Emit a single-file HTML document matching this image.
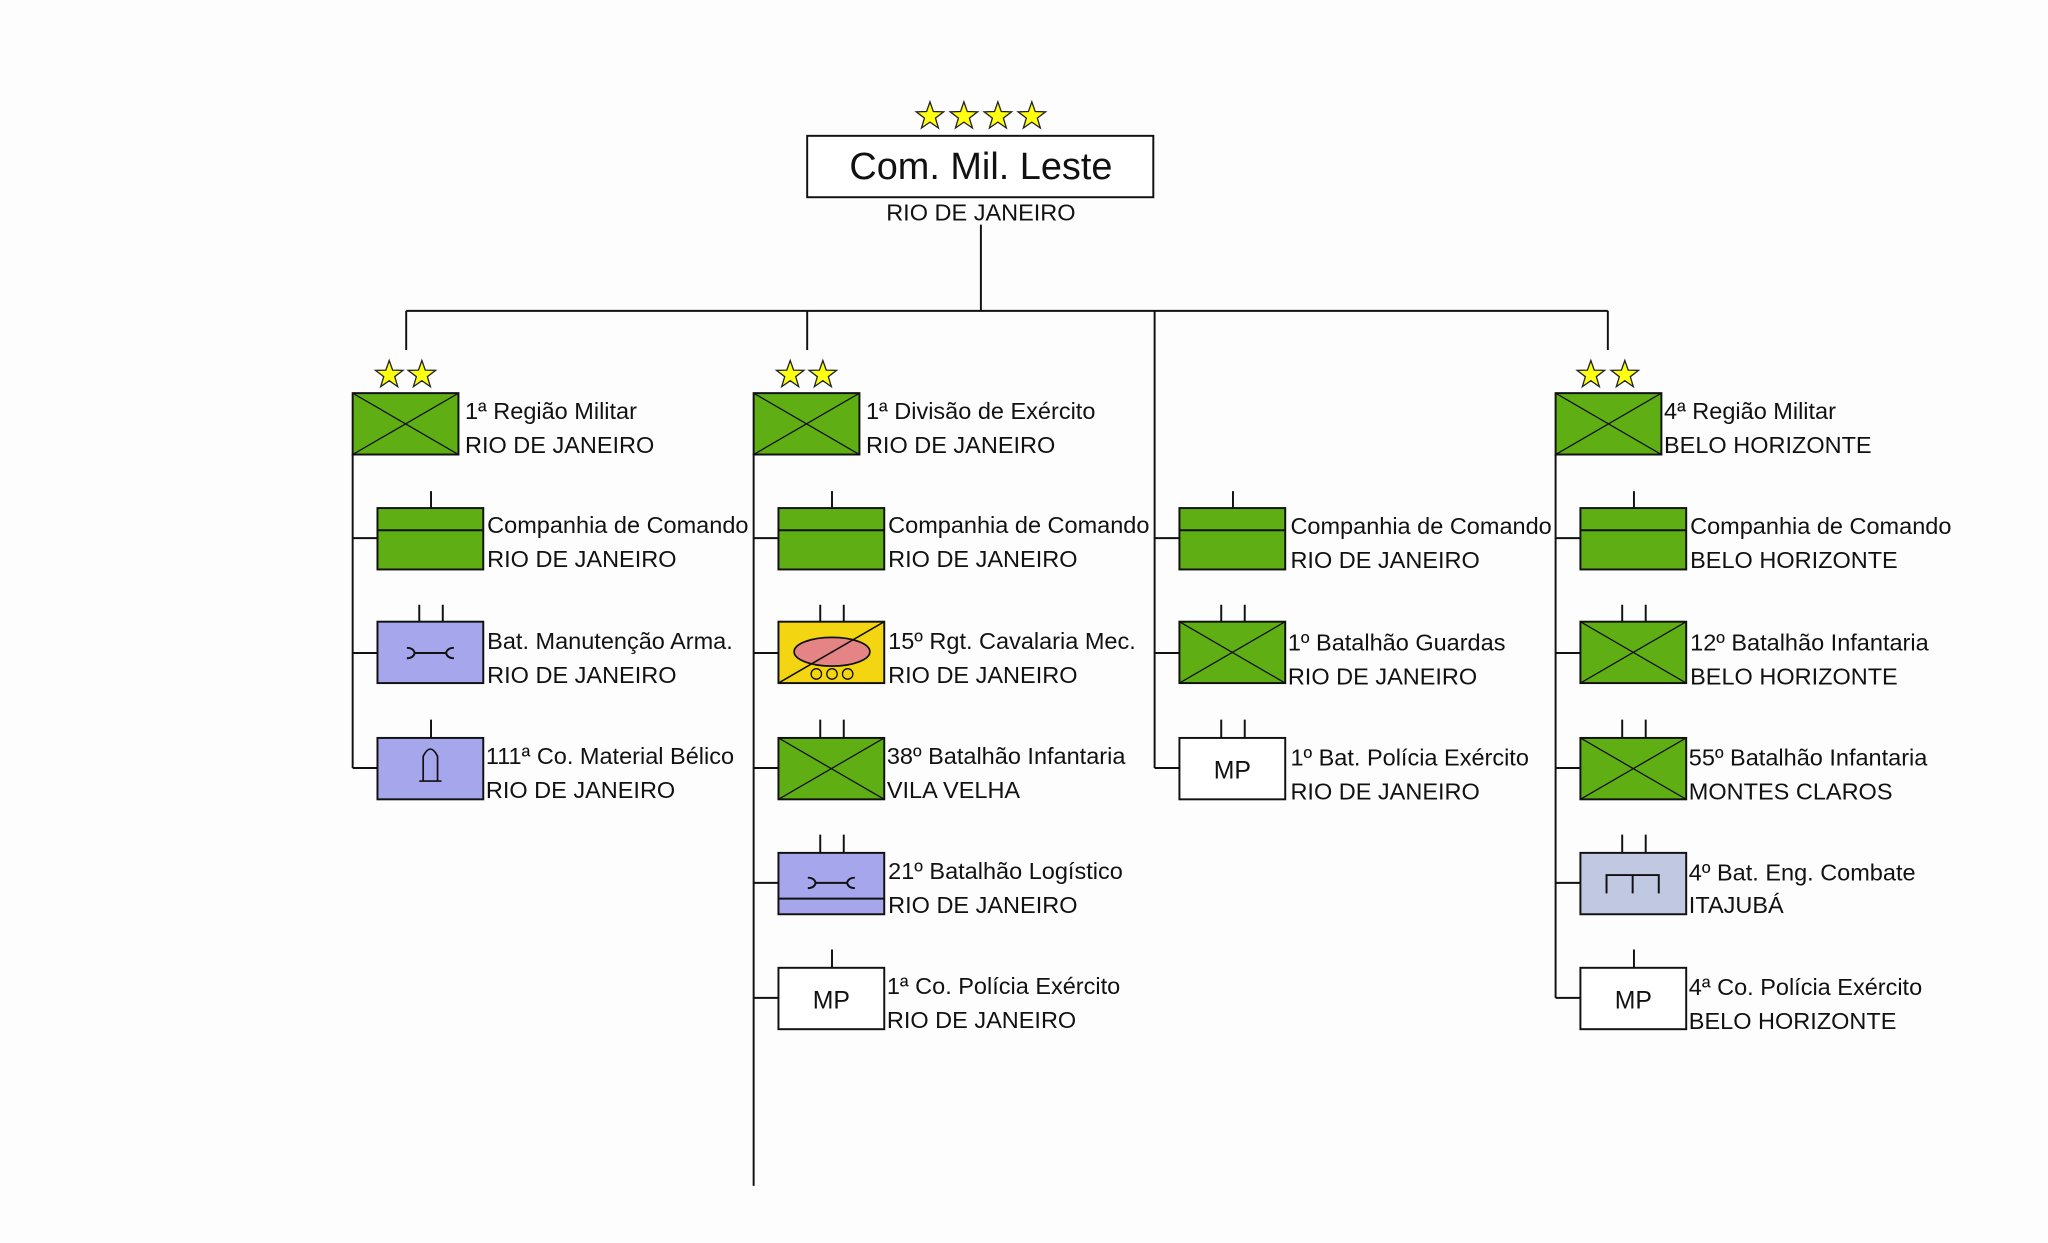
<!DOCTYPE html>
<html><head><meta charset="utf-8"><style>
html,body{margin:0;padding:0;background:#fdfdfd;}
svg{display:block;}
text{font-family:"Liberation Sans",sans-serif;font-size:18px;fill:#111;}
</style></head><body>
<svg width="2048" height="1243" viewBox="0 0 1568 951.7" preserveAspectRatio="none" xmlns="http://www.w3.org/2000/svg">
<defs>
<polygon id="st" points="0,-11 2.6,-3.6 10.5,-3.4 4.2,1.4 6.5,9 0,4.5 -6.5,9 -4.2,1.4 -10.5,-3.4 -2.6,-3.6" fill="#ffff10" stroke="#222" stroke-width="1"/>
<g id="inf"><rect x="0" y="0" width="81" height="47" fill="#5fae14" stroke="#111" stroke-width="1.5"/><line x1="0" y1="0" x2="81" y2="47" stroke="#111"/><line x1="81" y1="0" x2="0" y2="47" stroke="#111"/></g>
<g id="cmd"><rect x="0" y="0" width="81" height="47" fill="#5fae14" stroke="#111" stroke-width="1.5"/><line x1="0" y1="17" x2="81" y2="17" stroke="#111" stroke-width="1.5"/></g>
<g id="mp"><rect x="0" y="0" width="81" height="47" fill="#fff" stroke="#111" stroke-width="1.5"/><text x="40.5" y="31" text-anchor="middle" style="font-size:19px">MP</text></g>
<path id="wr" d="M-18,-4 q5,0 6,4 q-1,4 -6,4 M-12,0 H12 M18,-4 q-5,0 -6,4 q1,4 6,4" fill="none" stroke="#111" stroke-width="1.5"/>
</defs>
<g stroke="#111" stroke-width="1.5" fill="none">
<line x1="751" y1="172" x2="751" y2="238"/>
<line x1="311" y1="238" x2="1231" y2="238"/>
<line x1="311" y1="238" x2="311" y2="268"/>
<line x1="618" y1="238" x2="618" y2="268"/>
<line x1="1231" y1="238" x2="1231" y2="268"/>
<line x1="884" y1="238" x2="884" y2="588"/>
<line x1="270" y1="348" x2="270" y2="588"/>
<line x1="577" y1="348" x2="577" y2="908"/>
<line x1="1191" y1="348" x2="1191" y2="764"/>
<path d="M270,412H289M270,500H289M270,588H289"/>
<path d="M577,412H596M577,500H596M577,588H596M577,676H596M577,764H596"/>
<path d="M884,412H903M884,500H903M884,588H903"/>
<path d="M1191,412H1210M1191,500H1210M1191,588H1210M1191,676H1210M1191,764H1210"/>
<path d="M330,376V389M321,463V476M339,463V476M330,551V565"/>
<path d="M637,376V389M628,463V476M646,463V476M628,551V565M646,551V565M628,639V653M646,639V653M637,727V741"/>
<path d="M944,376V389M935,463V476M953,463V476M935,551V565M953,551V565"/>
<path d="M1251,376V389M1242,463V476M1260,463V476M1242,551V565M1260,551V565M1242,639V653M1260,639V653M1251,727V741"/>
</g>
<use href="#st" x="712" y="89"/><use href="#st" x="738" y="89"/><use href="#st" x="764" y="89"/><use href="#st" x="790" y="89"/>
<rect x="618" y="104" width="265" height="47" fill="#fff" stroke="#111" stroke-width="1.5"/>
<text x="751" y="137" text-anchor="middle" style="font-size:29px">Com. Mil. Leste</text>
<text x="751" y="169" text-anchor="middle">RIO DE JANEIRO</text>
<use href="#st" x="298" y="287"/><use href="#st" x="323" y="287"/>
<use href="#inf" x="270" y="301"/>
<text x="356" y="321">1ª Região Militar</text><text x="356" y="347">RIO DE JANEIRO</text>
<use href="#cmd" x="289" y="389"/>
<text x="373" y="408">Companhia de Comando</text><text x="373" y="434">RIO DE JANEIRO</text>
<rect x="289" y="476" width="81" height="47" fill="#a6a6ec" stroke="#111" stroke-width="1.5"/>
<use href="#wr" x="329.5" y="500"/>
<text x="373" y="497">Bat. Manutenção Arma.</text><text x="373" y="523">RIO DE JANEIRO</text>
<rect x="289" y="565" width="81" height="47" fill="#a6a6ec" stroke="#111" stroke-width="1.5"/>
<path d="M324,598V579Q329.5,568 335,579V598M321,598H338" fill="none" stroke="#111" stroke-width="1.3"/>
<text x="372" y="585">111ª Co. Material Bélico</text><text x="372" y="611">RIO DE JANEIRO</text>
<use href="#st" x="605" y="287"/><use href="#st" x="630" y="287"/>
<use href="#inf" x="577" y="301"/>
<text x="663" y="321">1ª Divisão de Exército</text><text x="663" y="347">RIO DE JANEIRO</text>
<use href="#cmd" x="596" y="389"/>
<text x="680" y="408">Companhia de Comando</text><text x="680" y="434">RIO DE JANEIRO</text>
<rect x="596" y="476" width="81" height="47" fill="#f4d512" stroke="#111" stroke-width="1.5"/>
<ellipse cx="637" cy="499" rx="29" ry="11" fill="#e48484" stroke="#111" stroke-width="1.3"/>
<line x1="596" y1="523" x2="677" y2="476" stroke="#111" stroke-width="1.2"/>
<circle cx="625" cy="516" r="4" fill="none" stroke="#111"/><circle cx="637" cy="516" r="4" fill="none" stroke="#111"/><circle cx="649" cy="516" r="4" fill="none" stroke="#111"/>
<text x="680" y="497">15º Rgt. Cavalaria Mec.</text><text x="680" y="523">RIO DE JANEIRO</text>
<use href="#inf" x="596" y="565"/>
<text x="679" y="585">38º Batalhão Infantaria</text><text x="679" y="611">VILA VELHA</text>
<rect x="596" y="653" width="81" height="47" fill="#a6a6ec" stroke="#111" stroke-width="1.5"/>
<line x1="596" y1="688" x2="677" y2="688" stroke="#111" stroke-width="1.5"/>
<use href="#wr" x="636.5" y="676"/>
<text x="680" y="673">21º Batalhão Logístico</text><text x="680" y="699">RIO DE JANEIRO</text>
<use href="#mp" x="596" y="741"/>
<text x="679" y="761">1ª Co. Polícia Exército</text><text x="679" y="787">RIO DE JANEIRO</text>
<use href="#cmd" x="903" y="389"/>
<text x="988" y="409">Companhia de Comando</text><text x="988" y="435">RIO DE JANEIRO</text>
<use href="#inf" x="903" y="476"/>
<text x="986" y="498">1º Batalhão Guardas</text><text x="986" y="524">RIO DE JANEIRO</text>
<use href="#mp" x="903" y="565"/>
<text x="988" y="586">1º Bat. Polícia Exército</text><text x="988" y="612">RIO DE JANEIRO</text>
<use href="#st" x="1218" y="287"/><use href="#st" x="1244" y="287"/>
<use href="#inf" x="1191" y="301"/>
<text x="1274" y="321">4ª Região Militar</text><text x="1274" y="347">BELO HORIZONTE</text>
<use href="#cmd" x="1210" y="389"/>
<text x="1294" y="409">Companhia de Comando</text><text x="1294" y="435">BELO HORIZONTE</text>
<use href="#inf" x="1210" y="476"/>
<text x="1294" y="498">12º Batalhão Infantaria</text><text x="1294" y="524">BELO HORIZONTE</text>
<use href="#inf" x="1210" y="565"/>
<text x="1293" y="586">55º Batalhão Infantaria</text><text x="1293" y="612">MONTES CLAROS</text>
<rect x="1210" y="653" width="81" height="47" fill="#c0c8e2" stroke="#111" stroke-width="1.5"/>
<path d="M1230,684V670H1270V684M1250,670V684" fill="none" stroke="#111" stroke-width="1.5"/>
<text x="1293" y="674">4º Bat. Eng. Combate</text><text x="1293" y="699">ITAJUBÁ</text>
<use href="#mp" x="1210" y="741"/>
<text x="1293" y="762">4ª Co. Polícia Exército</text><text x="1293" y="788">BELO HORIZONTE</text>
</svg>
</body></html>
